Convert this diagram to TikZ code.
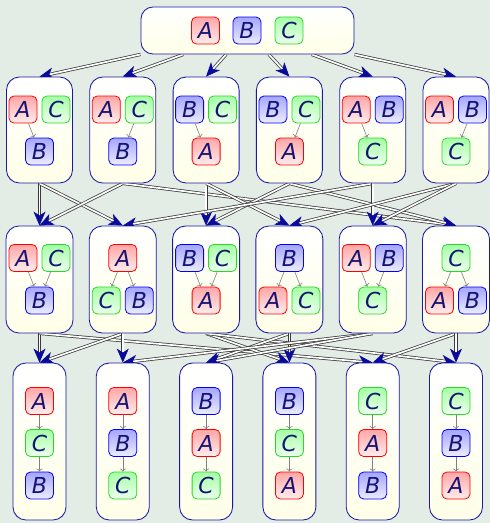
\documentclass[tikz,border=0pt]{standalone}
\usepackage{fontspec}
\setsansfont{DejaVu Sans}
\usetikzlibrary{arrows.meta,backgrounds,calc}
\definecolor{bgc}{RGB}{228,236,230}
\definecolor{navyb}{RGB}{25,25,165}
\definecolor{txt}{RGB}{20,20,115}
\definecolor{tipc}{RGB}{10,10,155}
\definecolor{grn}{RGB}{40,215,40}
\tikzset{
 bigbox/.style={draw=navyb, line width=0.85pt, rounded corners=13pt, top color=white, bottom color=yellow!9, inner sep=0pt},
 chip/.style={rounded corners=5pt, minimum width=28pt, minimum height=27pt, inner sep=0pt, line width=0.8pt, text=txt, font=\sffamily\itshape\fontsize{22}{22}\selectfont},
 chipA/.style={chip, draw=red, top color=red!35, bottom color=red!7},
 chipB/.style={chip, draw=blue, top color=blue!35, bottom color=blue!7},
 chipC/.style={chip, draw=grn, top color=green!35, bottom color=green!7},
 rel/.style={draw=gray, line width=0.6pt, -{To[length=3pt,width=6pt]}},
 edge/.style={draw=gray!45!black, double=white, double distance=1.7pt, line width=0.75pt, -{Stealth[length=14pt,width=12pt,inset=4pt,color=tipc]}}
}
\newcommand\ch[4]{\node[chip#4] (#1) at (#2,#3) {#4};}
% row 1: two on top, one below, one relation
\newcommand\pone[6]{%
 \node[bigbox, minimum width=66pt, minimum height=106pt] (#1) at (#2,130) {};
 \ch{#1l}{#2-16.5}{109.5}{#3}
 \ch{#1r}{#2+16.5}{109.5}{#4}
 \ch{#1b}{#2}{151.5}{#5}
 \draw[rel] (#1#6) -- (#1b);}
% row 2: two on top, one below
\newcommand\ptwoV[5]{%
 \node[bigbox, minimum width=67pt, minimum height=107pt] (#1) at (#2,279.5) {};
 \ch{#1l}{#2-16.5}{258}{#3}
 \ch{#1r}{#2+16.5}{258}{#4}
 \ch{#1b}{#2}{300.5}{#5}
 \draw[rel] (#1l) -- (#1b);
 \draw[rel] (#1r) -- (#1b);}
% row 2: one on top, two below
\newcommand\ptwoL[5]{%
 \node[bigbox, minimum width=67pt, minimum height=107pt] (#1) at (#2,279.5) {};
 \ch{#1t}{#2}{258}{#3}
 \ch{#1l}{#2-16.5}{300.5}{#4}
 \ch{#1r}{#2+16.5}{300.5}{#5}
 \draw[rel] (#1t) -- (#1l);
 \draw[rel] (#1t) -- (#1r);}
% row 3: chains
\newcommand\pthree[5]{%
 \node[bigbox, minimum width=53pt, minimum height=157pt] (#1) at (#2,441.5) {};
 \ch{#1t}{#2}{401}{#3}
 \ch{#1m}{#2}{443}{#4}
 \ch{#1b}{#2}{485.5}{#5}
 \draw[rel] (#1t) -- (#1m);
 \draw[rel] (#1m) -- (#1b);}
\begin{document}
\begin{tikzpicture}[x=1pt,y=-1pt]
\useasboundingbox (0,0) rectangle (490,523);
% top
\node[bigbox, rounded corners=12pt, minimum width=213pt, minimum height=47pt] (t) at (247.5,30.5) {};
\ch{tA}{205.5}{30.5}{A}
\ch{tB}{247}{30.5}{B}
\ch{tC}{289}{30.5}{C}
% row 1
\pone{ra}{39.5}{A}{C}{B}{l}
\pone{rb}{122.8}{A}{C}{B}{r}
\pone{rc}{206.1}{B}{C}{A}{l}
\pone{rd}{289.4}{B}{C}{A}{r}
\pone{re}{372.7}{A}{B}{C}{l}
\pone{rf}{456}{A}{B}{C}{r}
% row 2
\ptwoV{sa}{39.5}{A}{C}{B}
\ptwoL{sb}{122.8}{A}{C}{B}
\ptwoV{sc}{206.1}{B}{C}{A}
\ptwoL{sd}{289.4}{B}{A}{C}
\ptwoV{se}{372.7}{A}{B}{C}
\ptwoL{sf}{456}{C}{A}{B}
% row 3
\pthree{ua}{39.5}{A}{C}{B}
\pthree{ub}{122.8}{A}{B}{C}
\pthree{uc}{206.1}{B}{A}{C}
\pthree{ud}{289.4}{B}{C}{A}
\pthree{ue}{372.7}{C}{A}{B}
\pthree{uf}{456}{C}{B}{A}
\begin{scope}[on background layer]
\fill[bgc] (0,0) rectangle (490,523);
\draw[edge] (t.south west) -- (ra.north);
\draw[edge] ($(t.south west)!0.2!(t.south east)$) -- (rb.north);
\draw[edge] ($(t.south west)!0.4!(t.south east)$) -- (rc.north);
\draw[edge] ($(t.south west)!0.6!(t.south east)$) -- (rd.north);
\draw[edge] ($(t.south west)!0.8!(t.south east)$) -- (re.north);
\draw[edge] (t.south east) -- (rf.north);
\foreach \a/\b in {ra/sa, ra/sb, rb/sa, rb/sf, rc/sc, rc/sd, rd/sc, rd/sf, re/sb, re/se, rf/sd, rf/se,
  sa/ua, sa/ue, sb/ua, sb/ub, sc/ud, sc/uf, sd/uc, sd/ud, se/ub, se/uc, sf/ue, sf/uf}
  \draw[edge] (\a.south) -- (\b.north);
\end{scope}
\end{tikzpicture}
\end{document}
